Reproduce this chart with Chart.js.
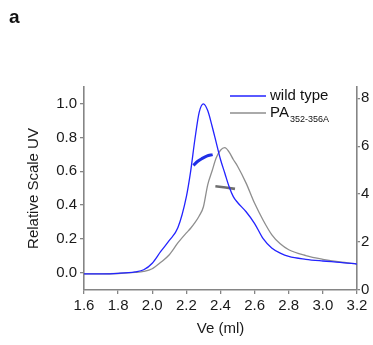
<!DOCTYPE html>
<html>
<head>
<meta charset="utf-8">
<script src="https://cdn.jsdelivr.net/npm/chart.js@4"></script>
<style>
  body { margin: 0; background: #fff; }
  #wrap { position: relative; width: 373px; height: 345px; }
  #panel { position: absolute; left: 9px; top: 7px; font: bold 19px/19px "Liberation Sans", Arial, sans-serif; color: #111; }
</style>
</head>
<body>
<div id="wrap">
  <canvas id="sec-chart" width="373" height="345"></canvas>
  <div id="panel">a</div>
</div>
<script>
/* SEC-MALS elution profile, wild type vs PA mutant */

const elutionVe = [1.6, 1.7, 1.8, 1.9, 1.95, 2.0, 2.05, 2.1, 2.15, 2.2, 2.225, 2.25, 2.275, 2.3,
    2.325, 2.35, 2.375, 2.4, 2.425, 2.45, 2.475, 2.5, 2.55, 2.6, 2.65, 2.7, 2.75, 2.8, 2.9, 3.0, 3.1, 3.2];

const wildTypeUV = [-0.008, -0.008, -0.005, 0.004, 0.016, 0.055, 0.125, 0.19, 0.265, 0.45, 0.6, 0.79, 0.95, 1.0,
    0.96, 0.87, 0.77, 0.67, 0.59, 0.51, 0.45, 0.415, 0.36, 0.29, 0.2, 0.145, 0.115, 0.095, 0.078, 0.068, 0.06, 0.05];

const mutantUV = [-0.008, -0.008, -0.006, 0.0, 0.006, 0.022, 0.06, 0.105, 0.175, 0.235, 0.262, 0.295, 0.335, 0.39,
    0.52, 0.6, 0.68, 0.725, 0.74, 0.715, 0.67, 0.63, 0.53, 0.41, 0.31, 0.225, 0.17, 0.135, 0.1, 0.078, 0.062, 0.05];

// molar mass segments (right axis)
const wildTypeMassVe = [2.241, 2.265, 2.29, 2.319, 2.354];
const wildTypeMass = [5.2, 5.36, 5.48, 5.59, 5.65];
const mutantMassVe = [2.37, 2.43, 2.485];
const mutantMass = [4.33, 4.28, 4.22];

const xTicks = [1.6, 1.8, 2.0, 2.2, 2.4, 2.6, 2.8, 3.0, 3.2];
const uvTicks = [0.0, 0.2, 0.4, 0.6, 0.8, 1.0];
const massTicks = [0, 2, 4, 6, 8];

const seriesLabels = ['wild type', 'PA', '352-356A'];

const FONT = '"Liberation Sans", Arial, sans-serif';
const AXIS_GREY = '#858585';
const BLUE = '#2323ff';
const GREY = '#8e8e8e';

function pairs(xs, ys) {
    return xs.map((x, i) => ({ x: x, y: ys[i] }));
}

// ── Legend with subscript ───────────────────────────────────────────────

const subLegend = {
    id: 'subLegend',
    afterDraw(chart) {
        const ctx = chart.ctx;
        ctx.save();
        ctx.lineWidth = 1.3;
        ctx.strokeStyle = BLUE;
        ctx.beginPath(); ctx.moveTo(230, 96); ctx.lineTo(266, 96); ctx.stroke();
        ctx.strokeStyle = GREY;
        ctx.beginPath(); ctx.moveTo(230, 113); ctx.lineTo(266, 113); ctx.stroke();

        ctx.fillStyle = '#111';
        ctx.textBaseline = 'middle';
        ctx.font = '15px ' + FONT;
        ctx.fillText(seriesLabels[0], 270, 96);
        ctx.fillText(seriesLabels[1], 270, 113);
        const w = ctx.measureText(seriesLabels[1]).width;
        ctx.font = '9px ' + FONT;
        ctx.fillText(seriesLabels[2], 270 + w + 1, 120);
        ctx.restore();
    }
};

function axisStyle(tickLen) {
    return {
        grid: { display: true, drawOnChartArea: false, drawTicks: true, tickLength: tickLen, color: AXIS_GREY, lineWidth: 1.3 },
        border: { display: true, color: AXIS_GREY, width: 1.6 },
    };
}

new Chart(document.getElementById('sec-chart'), {
    type: 'line',
    data: {
        datasets: [
            { data: pairs(elutionVe, wildTypeUV), borderColor: BLUE, borderWidth: 1.3, yAxisID: 'y', cubicInterpolationMode: 'monotone' },
            { data: pairs(elutionVe, mutantUV), borderColor: GREY, borderWidth: 1.3, yAxisID: 'y', cubicInterpolationMode: 'monotone' },
            { data: pairs(wildTypeMassVe, wildTypeMass), borderColor: '#1f2fe6', borderWidth: 3, yAxisID: 'y2', cubicInterpolationMode: 'monotone' },
            { data: pairs(mutantMassVe, mutantMass), borderColor: '#6f6f6f', borderWidth: 2.6, yAxisID: 'y2' },
        ],
    },
    options: {
        responsive: false,
        animation: false,
        elements: { point: { radius: 0 } },
        layout: { padding: { top: 87, left: 0, right: 0, bottom: 0 } },
        plugins: { legend: { display: false }, tooltip: { enabled: false } },
        scales: {
            x: {
                type: 'linear', min: 1.6, max: 3.2,
                ...axisStyle(4),
                afterBuildTicks: s => { s.ticks = xTicks.map(v => ({ value: v })); },
                afterFit: s => { s.height = 55; },
                ticks: { color: '#1a1a1a', font: { family: FONT, size: 15 }, padding: 3, maxRotation: 0,
                    callback: v => v.toFixed(1) },
                title: { display: true, text: 'Ve (ml)', color: '#1a1a1a', font: { family: FONT, size: 15 }, padding: { top: 0, bottom: 7 } },
            },
            y: {
                position: 'left', min: -0.104, max: 1.10,
                ...axisStyle(4),
                afterBuildTicks: s => { s.ticks = uvTicks.map(v => ({ value: v })); },
                afterFit: s => { s.width = 84; },
                ticks: { color: '#1a1a1a', font: { family: FONT, size: 15 }, padding: 3,
                    callback: v => v.toFixed(1) },
                title: { display: true, text: 'Relative Scale UV', color: '#1a1a1a', font: { family: FONT, size: 15 }, padding: { top: 25, bottom: 0 } },
            },
            y2: {
                position: 'right', min: 0, max: 8.47,
                ...axisStyle(3),
                afterBuildTicks: s => { s.ticks = massTicks.map(v => ({ value: v })); },
                afterFit: s => { s.width = 16; },
                ticks: { color: '#1a1a1a', font: { family: FONT, size: 15 }, padding: 1 },
            },
        },
    },
    plugins: [subLegend],
});
</script>
</body>
</html>
